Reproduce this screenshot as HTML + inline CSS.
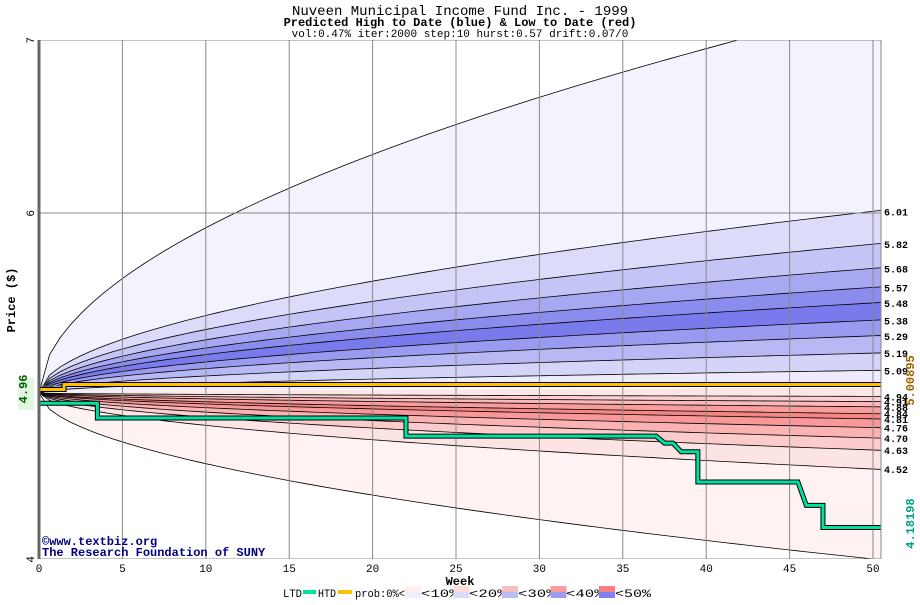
<!DOCTYPE html>
<html><head><meta charset="utf-8"><style>
body{margin:0;background:#fff;width:920px;height:600px;overflow:hidden}
svg{font-family:"Liberation Mono",monospace}
</style></head><body>
<svg id="c" width="920" height="600">
<text x="460" y="15" text-anchor="middle" font-size="14">Nuveen Municipal Income Fund Inc. - 1999</text>
<text x="460" y="26" text-anchor="middle" font-size="12" font-weight="bold">Predicted High to Date (blue) &amp;  Low to Date (red)</text>
<text x="460" y="37" text-anchor="middle" font-size="11">vol:0.47% iter:2000 step:10 hurst:0.57 drift:0.07/0</text>
<g id="plot"></g>
<text x="15" y="300" transform="rotate(-90 15 300)" text-anchor="middle" font-size="12" font-weight="bold">Price ($)</text>
<text x="460" y="585" text-anchor="middle" font-size="12" font-weight="bold">Week</text>
<text x="42" y="545" font-size="12" font-weight="bold" fill="#000080">©www.textbiz.org</text>
<text x="42" y="556" font-size="12" font-weight="bold" fill="#000080">The Research Foundation of SUNY</text>
<g id="legend" font-size="11"></g>
</svg>
<script>
const weeks=[0,50.5];
const upperEnds=[7.2,6.01,5.82,5.68,5.57,5.48,5.38,5.29,5.19,5.09];
const lowerEnds=[4.94,4.91,4.88,4.84,4.81,4.76,4.70,4.63,4.52,4.00];
const upperLabels=["6.01","5.82","5.68","5.57","5.48","5.38","5.29","5.19","5.09"];
const lowerLabels=["4.94","4.91","4.88","4.84","4.81","4.76","4.70","4.63","4.52"];
const startPrice=4.96;
const htdWeeks=[0,1.5,1.5,50.5];
const htdVals=[4.98,4.98,5.00895,5.00895];
const ltdWeeks=[0,3.5,3.5,22,22,37,37.5,38,38.5,39.5,39.5,45.5,46,47,47,50.5];
const ltdVals=[4.90,4.90,4.815,4.815,4.71,4.71,4.67,4.67,4.62,4.62,4.445,4.445,4.31,4.31,4.18198,4.18198];
const xTicks=[0,5,10,15,20,25,30,35,40,45,50];
const yTicks=[4,5,6,7];
const upperFill=["#f3f3fd","#dcdcfa","#c4c4f6","#a8a8f2","#8c8cee","#7a7aec","#9a9af0","#b8b8f4","#d4d4f8","#ececfc"];
const lowerFill=["#fde6e6","#fcd0d0","#fab8b8","#f89c9c","#f68686","#f89898","#fab2b2","#fccccc","#fde4e4","#fff2f2"];
const X=w=>39+w*16.68, Y=p=>559-(p-4)*173;
const ns="http://www.w3.org/2000/svg";
const plot=document.getElementById('plot');
function mk(t,a,p){const e=document.createElementNS(ns,t);for(const k in a)e.setAttribute(k,a[k]);(p||plot).appendChild(e);return e;}
const cp=mk('clipPath',{id:'cl'});mk('rect',{x:39,y:40,width:842,height:519},cp);
const g=mk('g',{'clip-path':'url(#cl)'});
const steps=[];for(let i=0;i<=80;i++)steps.push(weeks[1]*i/80);
function curve(end){return steps.map(t=>[X(t),Y(startPrice+(end-startPrice)*Math.pow(t/50,0.53))]);}
function bandPath(a,b){const ca=curve(a),cb=curve(b).reverse();return 'M'+ca.concat(cb).map(p=>p[0].toFixed(1)+','+p[1].toFixed(1)).join('L')+'Z';}
mk('rect',{x:39,y:40,width:842,height:519,fill:'#fff'},g);
const ub=upperEnds.concat([5.0]);
for(let i=0;i<upperEnds.length;i++){const e=mk('path',{d:bandPath(ub[i],ub[i+1]),fill:upperFill[i]},g);

}
const lb=[4.99].concat(lowerEnds);
for(let i=0;i<lowerEnds.length;i++){const e=mk('path',{d:bandPath(lb[i],lb[i+1]),fill:lowerFill[i]},g);

}
upperEnds.concat(lowerEnds).forEach(v=>{const e=mk('polyline',{points:curve(v).map(p=>p.join(',')).join(' '),fill:'none',stroke:'#000','stroke-width':0.8},g);

});
xTicks.forEach(w=>{if(w>0){const e=mk('line',{x1:X(w),x2:X(w),y1:40,y2:559,stroke:'#888','stroke-width':1},g);

}
const t=mk('text',{x:X(w),y:572,'text-anchor':'middle','font-size':11});t.textContent=w;

});
yTicks.forEach(p=>{const e=mk('line',{x1:39,x2:881,y1:Y(p),y2:Y(p),stroke:'#888','stroke-width':1},g);


if(p!==5){const t=mk('text',{x:33,y:Y(p)+4,'text-anchor':'end','font-size':11,transform:`rotate(-90 30 ${Y(p)})`});t.textContent=p;

}});
function step(ws,vs,col,name){const pts=ws.map((w,i)=>X(w)+','+Y(vs[i])).join(' ');
mk('polyline',{points:pts,fill:'none',stroke:'#000','stroke-width':5},g);
const e=mk('polyline',{points:pts,fill:'none',stroke:col,'stroke-width':3},g);

}
step(htdWeeks,htdVals,'#ffc000','htd-line');
step(ltdWeeks,ltdVals,'#00e0a0','ltd-line');
mk('line',{x1:39,x2:39,y1:40,y2:559,stroke:'#666','stroke-width':3});
mk('line',{x1:881,x2:881,y1:40,y2:559,stroke:'#888','stroke-width':1});
function labs(vals,labels){labels.forEach((l,i)=>{const t=mk('text',{x:884,y:Y(vals[i])+4,'font-size':10,'font-weight':'bold'});t.textContent=l;

});}
labs(upperEnds.slice(1),upperLabels);labs(lowerEnds.slice(0,9),lowerLabels);
mk('rect',{x:18,y:378,width:16,height:32,fill:'#e0f8e0'});
let t=mk('text',{x:31,y:Y(startPrice),'text-anchor':'middle','font-size':12,'font-weight':'bold',fill:'#006000',transform:`rotate(-90 27 ${Y(startPrice)})`});t.textContent='4.96';


t=mk('text',{x:918,y:Y(htdVals[3]),'text-anchor':'middle','font-size':12,'font-weight':'bold',fill:'#a06000',transform:`rotate(-90 914 ${Y(htdVals[3])})`});t.textContent='5.00895';


t=mk('text',{x:918,y:Y(ltdVals[15]),'text-anchor':'middle','font-size':12,'font-weight':'bold',fill:'#00a080',transform:`rotate(-90 914 ${Y(ltdVals[15])})`});t.textContent='4.18198';


const L=document.getElementById('legend');
const items=[['LTD',283,19],['HTD',318,18],['prob:0%<',355,50],['<10%<',421,47],['<20%<',469,47],['<30%<',518,47],['<40%<',566,47],['<50%',615,36]];
items.forEach(([s,x,w])=>{const e=mk('text',{x:x,y:597,textLength:w,lengthAdjust:'spacingAndGlyphs'},L);e.textContent=s;

});
mk('rect',{x:303,y:590,width:13,height:4,fill:'#00e0a0'},L);
mk('rect',{x:338,y:590,width:14,height:4,fill:'#ffc000'},L);
const lc=[['#fff0f0','#f0f0fc'],['#fcdcdc','#dcdcf8'],['#fabcbc','#bcbcf4'],['#f89c9c','#9c9cf0'],['#f68080','#8080ee']];
lc.forEach((c,i)=>{const x=405+i*48.5;mk('rect',{x:x,y:586,width:16,height:6,fill:c[0]},L);mk('rect',{x:x,y:592,width:16,height:6,fill:c[1]},L);});
</script>
</body></html>
